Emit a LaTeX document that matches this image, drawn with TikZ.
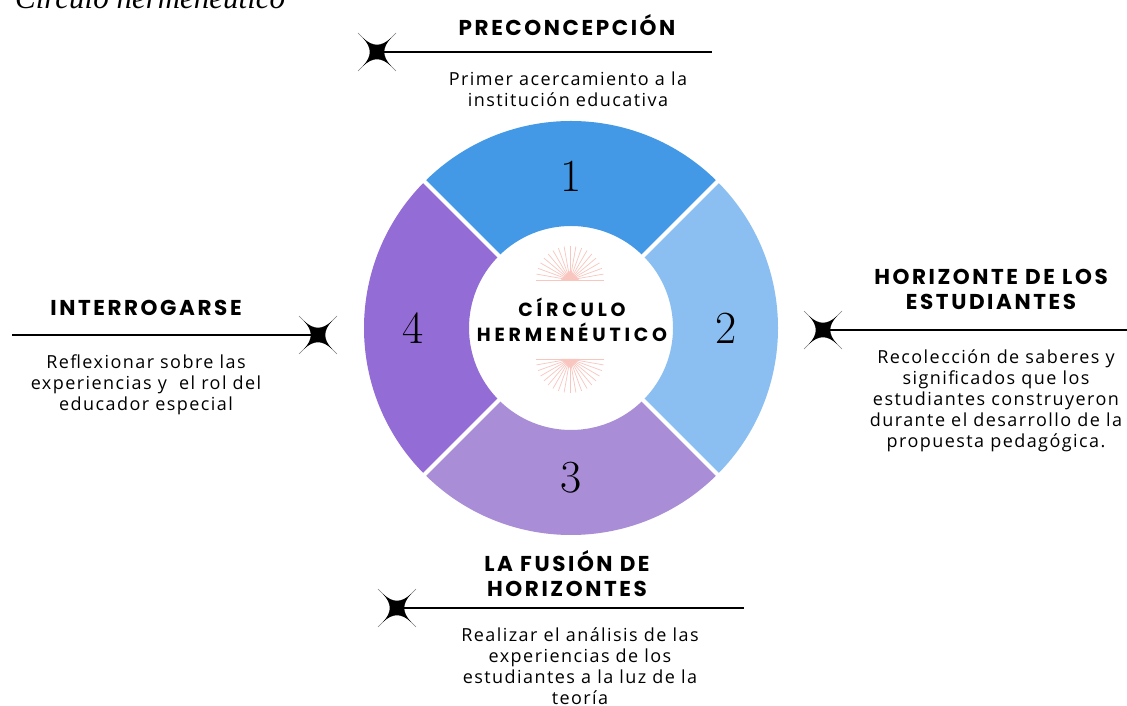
\documentclass[tikz,border=0pt]{standalone}
\usepackage{fontspec}
\setmainfont{Open Sans}
\newfontfamily\titulofont[LetterSpace=12]{Poppins}
\newfontfamily\centrofont[LetterSpace=20]{Poppins}
\newfontfamily\cuerpofont[LetterSpace=8]{Open Sans}
\newfontfamily\leyendafont{Liberation Serif}
\newfontfamily\numerofont{Latin Modern Roman}
\usepackage{xcolor}
\usetikzlibrary{positioning}

\definecolor{azul}{HTML}{4499E6}
\definecolor{celeste}{HTML}{8BBFF2}
\definecolor{lila}{HTML}{A98DD6}
\definecolor{morado}{HTML}{936CD6}
\definecolor{rosa}{HTML}{F8C6BE}

\tikzset{
  titulo/.style={align=center, font=\titulofont\bfseries\fontsize{21.5}{25}\selectfont},
  cuerpo/.style={align=center, font=\cuerpofont\fontsize{18}{21}\selectfont},
  linea/.style={line width=1.8pt},
  numero/.style={font=\numerofont\fontsize{46}{46}\selectfont}
}

\newcommand{\estrella}[1]{%
  \begin{scope}[shift={(#1)}]
    \draw[gray, line width=0.6pt] (-19,-19) -- (19,19) (-19,19) -- (19,-19);
    \fill (14,14) .. controls (5,4) and (5,-4) .. (14,-14)
      .. controls (4,-5) and (-4,-5) .. (-14,-14)
      .. controls (-5,-4) and (-5,4) .. (-14,14)
      .. controls (-4,5) and (4,5) .. cycle;
  \end{scope}}

\newcommand{\sol}[2]{%
  \foreach \a in {0,10,...,180}
    \draw[rosa, line width=0.7pt] (#1) ++(#2*\a:6) -- ++(#2*\a:28);
  \draw[rosa, line width=0.9pt] (#1) ++(-34,0) -- ++(68,0);
  \fill[rosa] (#1) ++(-9,0) -- ++(18,0) -- ++(-9,#2*9) -- cycle;}

\begin{document}
\begin{tikzpicture}[x=1pt, y=1pt]
  \useasboundingbox (0,0) rectangle (1127,706);
  \fill[white] (0,0) rectangle (1127,706);

  % leyenda cortada arriba
  \node[anchor=base west, inner sep=0, font=\leyendafont\itshape\fontsize{31}{31}\selectfont] (leyenda) at (15,697) {Círculo hermenéutico};

  % anillo
  \coordinate (c) at (571,378);
  \begin{scope}[shift={(c)}]
    \fill[azul] (45:207pt) arc (45:135:207pt) -- (135:102pt) arc (135:45:102pt) -- cycle;
    \fill[celeste] (-45:207pt) arc (-45:45:207pt) -- (45:102pt) arc (45:-45:102pt) -- cycle;
    \fill[lila] (225:207pt) arc (225:315:207pt) -- (315:102pt) arc (315:225:102pt) -- cycle;
    \fill[morado] (135:207pt) arc (135:225:207pt) -- (225:102pt) arc (225:135:102pt) -- cycle;
    \foreach \a in {45,135,225,315}
      \draw[white, line width=4pt] (\a:96pt) -- (\a:212pt);
    \node[numero] (n1) at (90:152pt) {1};
    \node[numero] (n2) at (0:155pt) {2};
    \node[numero] (n3) at (270:150pt) {3};
    \node[numero] (n4) at (180:158pt) {4};
  \end{scope}

  % centro
  \coordinate (sol1) at (570,426);
  \coordinate (sol2) at (570,347);
  \sol{sol1}{1}
  \sol{sol2}{-1}
  \node[align=center, font=\centrofont\bfseries\fontsize{19}{25}\selectfont] (centro) at (572,386) {CÍRCULO\\HERMENÉUTICO};

  % 1 arriba
  \coordinate (s1) at (377,654);
  \coordinate (e1) at (712,654);
  \draw[linea] (s1) -- (e1);
  \estrella{s1}
  \node[titulo] (t1) at (567,681) {PRECONCEPCIÓN};
  \node[cuerpo] (b1) at (568,617) {Primer acercamiento a la\\institución educativa};

  % 2 derecha
  \coordinate (s2) at (823,376);
  \coordinate (e2) at (1127,376);
  \draw[linea] (s2) -- (e2);
  \estrella{s2}
  \node[titulo] (t2) at (991,417) {HORIZONTE DE LOS\\ESTUDIANTES};
  \node[cuerpo] (b2) at (996,305) {Recolección de saberes y\\significados que los\\estudiantes construyeron\\durante el desarrollo de la\\propuesta pedagógica.};

  % 3 abajo
  \coordinate (s3) at (397,98);
  \coordinate (e3) at (744,98);
  \draw[linea] (s3) -- (e3);
  \estrella{s3}
  \node[titulo] (t3) at (567,132) {LA FUSIÓN DE\\HORIZONTES};
  \node[cuerpo] (b3) at (580,40) {Realizar el análisis de las\\experiencias de los\\estudiantes a la luz de la\\teoría};

  % 4 izquierda
  \coordinate (s4) at (318,371);
  \coordinate (e4) at (12,371);
  \draw[linea] (e4) -- (s4);
  \estrella{s4}
  \node[titulo] (t4) at (146,398) {INTERROGARSE};
  \node[cuerpo] (b4) at (146,321) {Reflexionar sobre las\\experiencias y\ \ el rol del\\educador especial};
\end{tikzpicture}
\end{document}
